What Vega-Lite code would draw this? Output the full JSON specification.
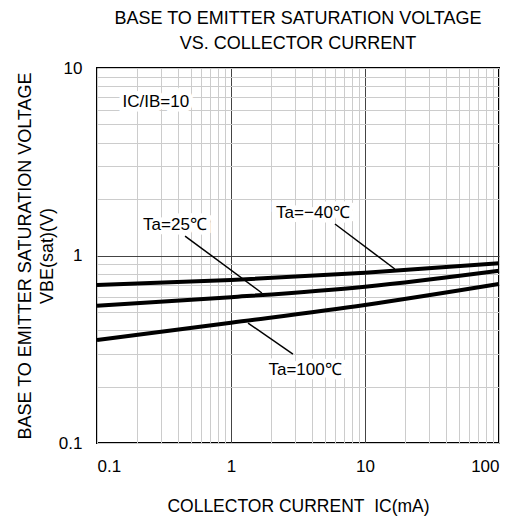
{
  "$schema": "https://vega.github.io/schema/vega-lite/v6.json",
  "width": 402,
  "height": 375,
  "autosize": {"type": "none"},
  "padding": {"left": 97, "top": 68, "right": 18, "bottom": 74},
  "background": "white",
  "config": {
    "font": "Liberation Sans",
    "view": {"stroke": "black", "strokeWidth": 2},
    "axis": {"domain": false, "ticks": false, "labelColor": "black", "titleColor": "black", "labelFont": "Liberation Sans", "titleFont": "Liberation Sans", "titleFontWeight": "normal"}
  },
  "title": {
    "text": ["BASE TO EMITTER SATURATION VOLTAGE", "VS. COLLECTOR CURRENT"],
    "fontSize": 18,
    "fontWeight": "normal",
    "color": "black",
    "anchor": "middle",
    "lineHeight": 25,
    "offset": 6
  },
  "datasets": {
    "curves": [
      {"series": "Ta=-40", "ic": 0.1, "v": 0.696},
      {"series": "Ta=-40", "ic": 1, "v": 0.740},
      {"series": "Ta=-40", "ic": 10, "v": 0.810},
      {"series": "Ta=-40", "ic": 100, "v": 0.909},
      {"series": "Ta=25", "ic": 0.1, "v": 0.540},
      {"series": "Ta=25", "ic": 1, "v": 0.599},
      {"series": "Ta=25", "ic": 10, "v": 0.682},
      {"series": "Ta=25", "ic": 100, "v": 0.830},
      {"series": "Ta=100", "ic": 0.1, "v": 0.354},
      {"series": "Ta=100", "ic": 1, "v": 0.438},
      {"series": "Ta=100", "ic": 10, "v": 0.545},
      {"series": "Ta=100", "ic": 100, "v": 0.705}
    ],
    "leaders": [
      {"ic": 5.97, "v": 1.472, "ic2": 16.7, "v2": 0.847},
      {"ic": 0.454, "v": 1.27, "ic2": 1.70, "v2": 0.631},
      {"ic": 1.34, "v": 0.436, "ic2": 2.90, "v2": 0.298}
    ],
    "labels": [
      {"label": "Ta=−40℃", "ic": 4.09, "v": 1.686},
      {"label": "Ta=25℃", "ic": 0.382, "v": 1.455},
      {"label": "Ta=100℃", "ic": 3.57, "v": 0.245},
      {"label": "IC/IB=10", "ic": 0.275, "v": 6.59}
    ]
  },
  "layer": [
    {
      "data": {"name": "curves"},
      "mark": {"type": "line", "color": "black", "strokeWidth": 4, "interpolate": "monotone"},
      "encoding": {
        "x": {
          "field": "ic", "type": "quantitative",
          "scale": {"type": "log", "domain": [0.1, 100], "nice": false},
          "axis": {
            "title": "COLLECTOR CURRENT\u00a0\u00a0IC(mA)",
            "titleFontSize": 17.5,
            "titlePadding": 23,
            "labelFontSize": 17,
            "labelPadding": 15,
            "values": [0.1, 0.2, 0.3, 0.4, 0.5, 0.6, 0.7, 0.8, 0.9, 1, 2, 3, 4, 5, 6, 7, 8, 9, 10, 20, 30, 40, 50, 60, 70, 80, 90, 100],
            "labelExpr": "indexof([0.1, 1, 10, 100], datum.value) >= 0 ? format(datum.value, '~g') : ''",
            "grid": true,
            "gridColor": {"condition": {"test": "datum.value === 1 || datum.value === 10", "value": "#444444"}, "value": "#cccccc"},
            "gridWidth": 1
          }
        },
        "y": {
          "field": "v", "type": "quantitative",
          "scale": {"type": "log", "domain": [0.1, 10], "nice": false},
          "axis": {
            "title": ["BASE TO EMITTER SATURATION VOLTAGE", "VBE(sat)(V)"],
            "titleFontSize": 18,
            "titleLineHeight": 22,
            "titlePadding": 2,
            "labelFontSize": 17,
            "labelPadding": 15,
            "values": [0.1, 0.2, 0.3, 0.4, 0.5, 0.6, 0.7, 0.8, 0.9, 1, 2, 3, 4, 5, 6, 7, 8, 9, 10],
            "labelExpr": "indexof([0.1, 1, 10], datum.value) >= 0 ? format(datum.value, '~g') : ''",
            "grid": true,
            "gridColor": {"condition": {"test": "datum.value === 1", "value": "#444444"}, "value": "#cccccc"},
            "gridWidth": 1
          }
        },
        "detail": {"field": "series", "type": "nominal"}
      }
    },
    {
      "data": {"name": "leaders"},
      "mark": {"type": "rule", "color": "black", "strokeWidth": 1.5},
      "encoding": {
        "x": {"field": "ic", "type": "quantitative"},
        "y": {"field": "v", "type": "quantitative"},
        "x2": {"field": "ic2"},
        "y2": {"field": "v2"}
      }
    },
    {
      "data": {"name": "labels"},
      "mark": {"type": "text", "fontSize": 17, "stroke": "white", "strokeWidth": 9, "fill": "white", "align": "center", "baseline": "middle"},
      "encoding": {
        "x": {"field": "ic", "type": "quantitative"},
        "y": {"field": "v", "type": "quantitative"},
        "text": {"field": "label"}
      }
    },
    {
      "data": {"name": "labels"},
      "mark": {"type": "text", "fontSize": 17, "color": "black", "align": "center", "baseline": "middle"},
      "encoding": {
        "x": {"field": "ic", "type": "quantitative"},
        "y": {"field": "v", "type": "quantitative"},
        "text": {"field": "label"}
      }
    }
  ]
}
